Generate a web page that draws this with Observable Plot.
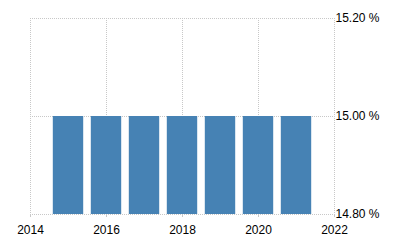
<!DOCTYPE html>
<html>
<head>
<meta charset="utf-8">
<script src="https://cdn.jsdelivr.net/npm/d3@7"></script>
<script src="https://cdn.jsdelivr.net/npm/@observablehq/plot@0.6"></script>
<style>
  html, body { margin: 0; padding: 0; background: #fff; }
  #chart svg { display: block; }
</style>
</head>
<body>
<div id="chart"></div>
<script>
const years = [2015, 2016, 2017, 2018, 2019, 2020, 2021];
const values = [15.0, 15.0, 15.0, 15.0, 15.0, 15.0, 15.0];
const xTicks = [2014, 2016, 2018, 2020, 2022];
const yTicks = [14.8, 15.0, 15.2];

const data = years.map((year, i) => ({year, value: values[i]}));
const halfWidth = 0.4;

const chart = Plot.plot({
  width: 400,
  height: 250,
  marginLeft: 30,
  marginRight: 66,
  marginTop: 18,
  marginBottom: 36,
  style: {fontFamily: "'Liberation Sans', Arial, sans-serif", fontSize: "12px", background: "#fff"},
  x: {domain: [xTicks[0], xTicks[xTicks.length - 1]]},
  y: {domain: [yTicks[0], yTicks[yTicks.length - 1]]},
  marks: [
    Plot.gridX(xTicks, {stroke: "#c8c8c8", strokeOpacity: 1, strokeDasharray: "1,1"}),
    Plot.gridY(yTicks, {stroke: "#c8c8c8", strokeOpacity: 1, strokeDasharray: "1,1"}),
    Plot.rectY(data, {
      x1: d => d.year - halfWidth,
      x2: d => d.year + halfWidth,
      y1: yTicks[0],
      y2: "value",
      fill: "#4682b4"
    }),
    Plot.axisX(xTicks, {tickSize: 3, tickPadding: 8, stroke: "#c8c8c8", fill: "#000", tickFormat: d => String(d), label: null}),
    Plot.axisY(yTicks, {anchor: "right", tickSize: 0, tickPadding: 1, fill: "#000", tickFormat: d => d.toFixed(2) + " %", label: null})
  ]
});
document.getElementById("chart").appendChild(chart);
</script>
</body>
</html>
